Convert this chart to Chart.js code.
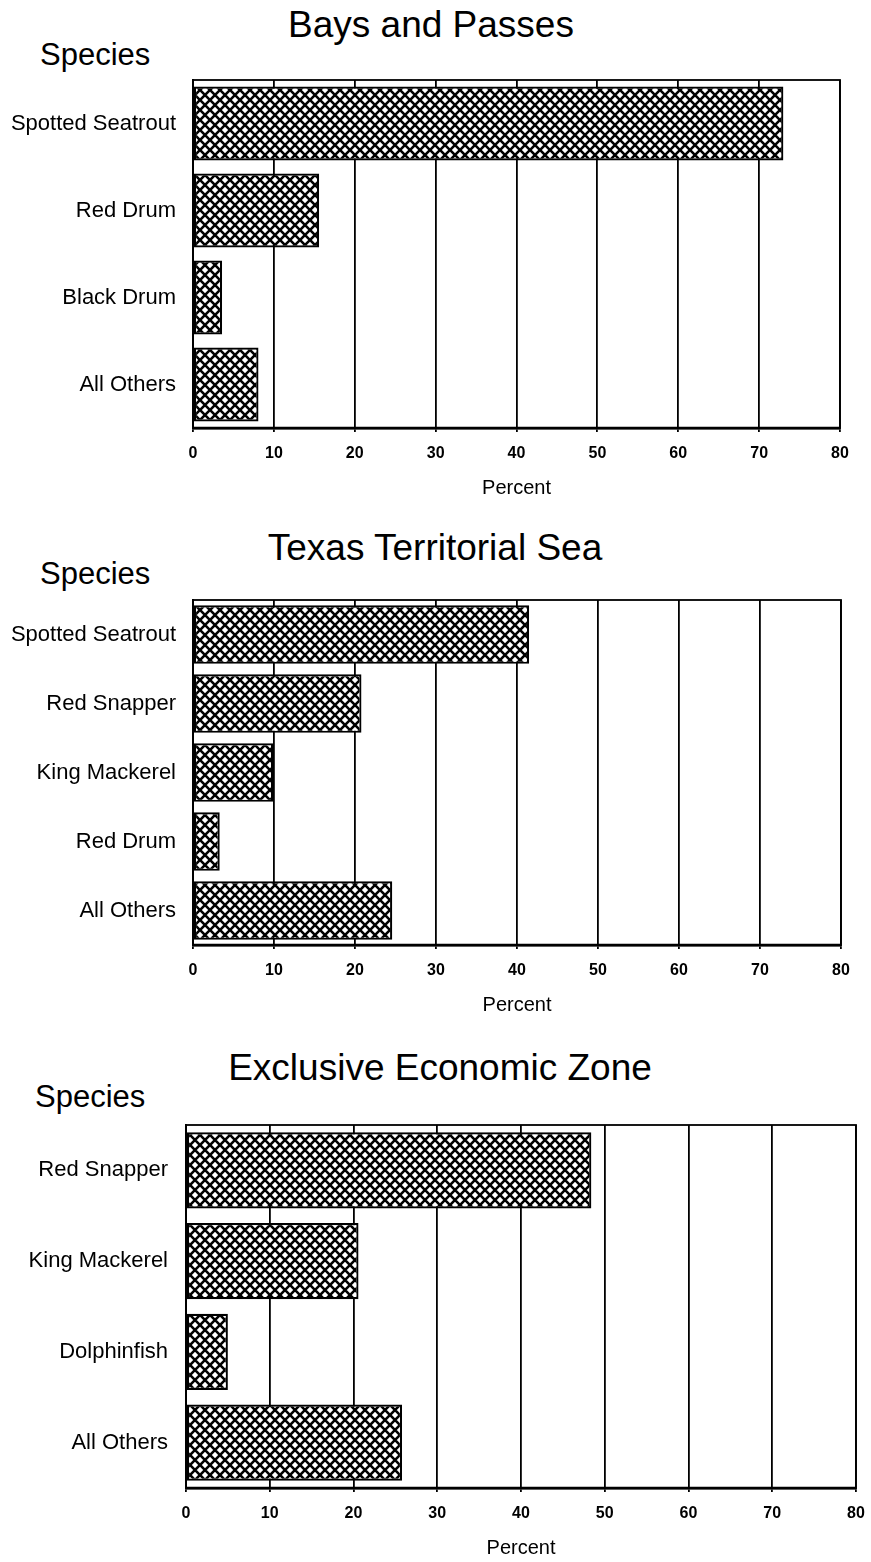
<!DOCTYPE html>
<html>
<head>
<meta charset="utf-8">
<script src="https://cdn.jsdelivr.net/npm/chart.js@4.4.1/dist/chart.umd.min.js"></script>
<style>
  body { margin: 0; background: #fff; width: 871px; height: 1562px; position: relative; overflow: hidden;
         font-family: "Liberation Sans", Arial, sans-serif; color: #000; }
  .ttl { position: absolute; transform: translate(-50%, -50%); font-size: 37px; white-space: nowrap; }
  .spc { position: absolute; transform: translateY(-50%); font-size: 31px; white-space: nowrap; }
  canvas { position: absolute; left: 0; }
</style>
</head>
<body>
<div class="ttl" style="left:431px; top:25px">Bays and Passes</div>
<div class="spc" style="left:40px; top:55px">Species</div>
<canvas id="chartBays"></canvas>

<div class="ttl" style="left:435px; top:548px">Texas Territorial Sea</div>
<div class="spc" style="left:40px; top:574px">Species</div>
<canvas id="chartTerritorial"></canvas>

<div class="ttl" style="left:440px; top:1068px">Exclusive Economic Zone</div>
<div class="spc" style="left:35px; top:1097px">Species</div>
<canvas id="chartEez"></canvas>

<script>
// values (percent of catch)
const baysLabels = ['Spotted Seatrout', 'Red Drum', 'Black Drum', 'All Others'];
const baysValues = [73.0, 15.6, 3.6, 8.1];

const territorialLabels = ['Spotted Seatrout', 'Red Snapper', 'King Mackerel', 'Red Drum', 'All Others'];
const territorialValues = [41.5, 20.8, 9.9, 3.3, 24.6];

const eezLabels = ['Red Snapper', 'King Mackerel', 'Dolphinfish', 'All Others'];
const eezValues = [48.4, 20.6, 5.0, 25.8];

const percentMin = 0;
const percentMax = 80;
const percentStep = 10;
const xTitle = 'Percent';

const FONT = '"Liberation Sans", Arial, sans-serif';

function makeHatch() {
  const s = 10;
  let c = document.createElement('canvas');
  c.width = s; c.height = s;
  let g = c.getContext('2d');
  g.fillStyle = '#fff';
  g.fillRect(0, 0, s, s);
  g.strokeStyle = '#000';
  g.lineWidth = 2.6;
  g.beginPath();
  g.moveTo(-2, -2); g.lineTo(s + 2, s + 2);
  g.moveTo(s + 2, -2); g.lineTo(-2, s + 2);
  g.stroke();
  return c;
}

// box round the plot area
const frame = {
  id: 'frame',
  afterDraw(chart) {
    const { ctx, chartArea: a } = chart;
    ctx.save();
    ctx.strokeStyle = '#000';
    ctx.lineWidth = 1.8;
    ctx.strokeRect(a.left, a.top, a.right - a.left, a.bottom - a.top);
    ctx.beginPath();
    ctx.lineWidth = 2.5;
    ctx.moveTo(a.left, a.bottom);
    ctx.lineTo(a.right, a.bottom);
    ctx.stroke();
    ctx.restore();
  }
};

function drawPanel(chartId, labels, values, plot) {
  const axisH = 72;
  const top = plot.top - 10;
  const height = plot.bottom + axisH - top;
  const canvas = document.getElementById(chartId);
  canvas.width = 871;
  canvas.height = height;
  canvas.style.top = top + 'px';
  const ctx = canvas.getContext('2d');
  const hatch = ctx.createPattern(makeHatch(), 'repeat');

  return new Chart(canvas, {
    type: 'bar',
    data: {
      labels: labels,
      datasets: [{
        data: values,
        backgroundColor: hatch,
        borderColor: '#000',
        borderWidth: 2.2,
        borderSkipped: false,
        barPercentage: plot.bar,
        categoryPercentage: 1
      }]
    },
    options: {
      indexAxis: 'y',
      responsive: false,
      animation: false,
      devicePixelRatio: 1,
      layout: { padding: { top: 10, right: 871 - plot.right, bottom: 0, left: 0 } },
      plugins: { legend: { display: false }, tooltip: { enabled: false } },
      scales: {
        x: {
          type: 'linear',
          min: percentMin,
          max: percentMax,
          ticks: { stepSize: percentStep, color: '#000', padding: 12,
                   font: { family: FONT, size: 16, weight: 'bold' } },
          grid: { color: '#000', lineWidth: 1.8, tickLength: 4, tickColor: '#000' },
          border: { display: true, color: '#000', width: 2.5 },
          title: { display: true, text: xTitle, color: '#000', padding: { top: 0, bottom: 0 },
                   font: { family: FONT, size: 20 } },
          afterFit: (scale) => {
            scale.height = axisH;
            scale.paddingLeft = 0;
            scale.paddingRight = 0;
          }
        },
        y: {
          type: 'category',
          grid: { display: false },
          border: { display: true, color: '#000', width: 2 },
          ticks: { color: '#000', padding: plot.labelPad, font: { family: FONT, size: 22 } },
          afterFit: (scale) => {
            scale.width = plot.left;
            scale.paddingTop = 0;
            scale.paddingBottom = 0;
          }
        }
      }
    },
    plugins: [frame]
  });
}

drawPanel('chartBays', baysLabels, baysValues,
  { left: 193, right: 840, top: 80, bottom: 428, bar: 0.85, labelPad: 9 });
drawPanel('chartTerritorial', territorialLabels, territorialValues,
  { left: 193, right: 841, top: 600, bottom: 945, bar: 0.85, labelPad: 9 });
drawPanel('chartEez', eezLabels, eezValues,
  { left: 186, right: 856, top: 1125, bottom: 1488, bar: 0.84, labelPad: 10 });
</script>
</body>
</html>
